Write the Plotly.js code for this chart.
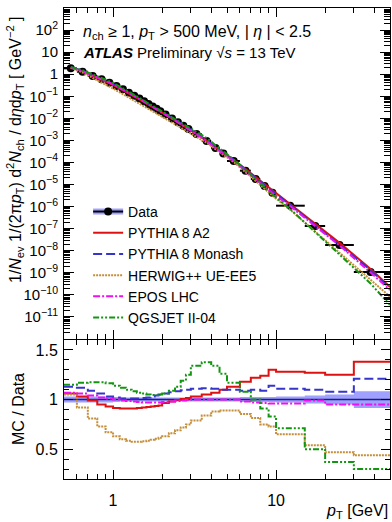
<!DOCTYPE html>
<html><head><meta charset="utf-8">
<script src="https://cdn.plot.ly/plotly-3.0.1.min.js"></script>
<style>html,body{margin:0;padding:0;background:#fff}#chart{width:392px;height:522px}</style>
</head><body><div id="chart"></div>
<script>
// ---------------- data ----------------
const binEdges = [0.5,0.6,0.7,0.8,0.9,1.0,1.1,1.2,1.3,1.4,1.5,1.6,1.7,1.8,1.9,2.0,2.2,2.4,2.6,2.8,3.0,3.5,4.0,4.5,5.0,6.0,7.0,8.0,9.0,10,15,20,30,50];
const pt = [0.55,0.65,0.75,0.85,0.95,1.05,1.15,1.25,1.35,1.45,1.55,1.65,1.75,1.85,1.95,2.1,2.3,2.5,2.7,2.9,3.25,3.75,4.25,4.75,5.5,6.5,7.5,8.5,9.5,12.2,17.4,24.5,38];
const dataVal = [1.85,1.30,0.83,0.59,0.41,0.29,0.207,0.145,0.106,0.0785,0.0593,0.0452,0.0348,0.0271,0.0211,0.0151,0.00995,0.0067,0.0046,0.0033,0.00195,0.00094,0.00045,0.000255,0.000117,4.25e-5,1.79e-5,8.6e-6,4.28e-6,1.10e-6,1.32e-7,1.82e-8,1.09e-9];
const dataRelUnc = [0.03,0.03,0.03,0.03,0.03,0.025,0.02,0.02,0.02,0.02,0.02,0.02,0.02,0.02,0.02,0.02,0.02,0.02,0.02,0.02,0.02,0.02,0.02,0.02,0.02,0.025,0.025,0.025,0.025,0.03,0.04,0.05,0.085];

// MC / Data ratios per bin
const ratioA2 = [1.06,1.03,0.99,0.95,0.93,0.915,0.91,0.91,0.91,0.915,0.92,0.925,0.93,0.935,0.94,0.965,0.98,0.995,1.005,1.015,1.03,1.05,1.07,1.10,1.13,1.18,1.22,1.24,1.30,1.28,1.27,1.25,1.38];
const ratioMonash = [1.13,1.12,1.09,1.06,1.03,1.02,1.01,1.01,1.01,1.01,1.015,1.02,1.03,1.04,1.05,1.06,1.075,1.085,1.095,1.10,1.11,1.115,1.11,1.10,1.10,1.09,1.10,1.09,1.14,1.11,1.10,1.08,1.21];
const ratioHerwig = [1.05,0.92,0.81,0.73,0.67,0.63,0.60,0.585,0.575,0.575,0.58,0.585,0.595,0.605,0.615,0.63,0.66,0.69,0.72,0.75,0.79,0.84,0.88,0.89,0.89,0.855,0.815,0.75,0.73,0.65,0.54,0.47,0.44];
const ratioEpos = [1.07,1.06,1.04,1.02,1.01,1.0,0.99,0.985,0.98,0.975,0.97,0.97,0.97,0.97,0.97,0.975,0.98,0.985,0.99,0.995,1.0,1.0,1.0,1.0,1.0,0.98,0.97,0.965,0.96,0.96,0.99,0.95,0.95];
const ratioQgsjet = [1.15,1.17,1.175,1.175,1.165,1.14,1.12,1.10,1.085,1.07,1.06,1.05,1.045,1.045,1.05,1.06,1.09,1.13,1.19,1.25,1.34,1.375,1.34,1.26,1.17,1.08,1.0,0.91,0.83,0.71,0.50,0.37,0.30];
// MC spectra value at the right edge of the main panel (pT = 50 GeV)
const mcEdgePt = 50;
const mcEdgeVal = [2.3e-10, 2.0e-10, 8.3e-11, 1.65e-10, 3.5e-11];

const seriesNames = ["PYTHIA 8 A2","PYTHIA 8 Monash","HERWIG++ UE-EE5","EPOS LHC","QGSJET II-04"];
const xTickVals = [1,10];
const xTickText = ["1","10"];

// ---------------- styles ----------------
const FONT = "Liberation Sans, Arial, Helvetica, sans-serif";
const styles = [
  {color:"#dd1111", dash:"solid"},
  {color:"#3535cc", dash:"9px,4px"},
  {color:"#c48f3a", dash:"2px,1px"},
  {color:"#ee11ee", dash:"7px,2px,2px,2px"},
  {color:"#129612", dash:"6px,2px,2px,2px,2px,2px"}
];
const ratios = [ratioA2, ratioMonash, ratioHerwig, ratioEpos, ratioQgsjet];

const stepY = a => a.concat([a[a.length-1]]);
const traces = [];

// ratio band (lower, upper) – upper also provides the band legend symbol
const bandLo = dataRelUnc.map(u => 1 - u);
const bandHi = dataRelUnc.map(u => 1 + u);
traces.push({x: binEdges, y: stepY(bandLo), xaxis:"x2", yaxis:"y2", mode:"lines",
  line:{shape:"hv", width:0, color:"rgba(0,0,0,0)"}, showlegend:false, hoverinfo:"skip"});
traces.push({x: binEdges, y: stepY(bandHi), xaxis:"x2", yaxis:"y2", mode:"none",
  line:{shape:"hv", width:0}, fill:"tonexty", fillcolor:"#a0a0ff", name:" ",
  legend:"legend", showlegend:true, hoverinfo:"skip"});
// data line at 1
traces.push({x: binEdges, y: stepY(dataVal.map(v => v / v)), xaxis:"x2", yaxis:"y2", mode:"lines",
  line:{shape:"hv", width:1.5, color:"#1c1c8c"}, showlegend:false, hoverinfo:"skip"});

// data points in the main panel (nulls between points so no connecting line is drawn)
const dx = [], dy = [], ep = [], em = [];
pt.forEach((p, i) => {
  dx.push(p); dy.push(dataVal[i]); ep.push(binEdges[i+1] - p); em.push(p - binEdges[i]);
  if (i < pt.length - 1) { dx.push(null); dy.push(null); ep.push(0); em.push(0); }
});
traces.push({x: dx, y: dy, xaxis:"x", yaxis:"y", mode:"lines+markers", name:"Data",
  legend:"legend2", line:{color:"#000", width:2}, marker:{color:"#000", size:8, symbol:"circle"},
  error_x:{type:"data", symmetric:false, array:ep, arrayminus:em, color:"#000", thickness:2, width:0},
  connectgaps:false, hoverinfo:"skip"});

// MC curves: main panel (MC = data x ratio) and ratio panel steps
ratios.forEach((r, k) => {
  traces.push({x: pt.concat([mcEdgePt]), y: dataVal.map((v, i) => v * r[i]).concat([mcEdgeVal[k]]),
    xaxis:"x", yaxis:"y", mode:"lines", name: seriesNames[k], legend:"legend2",
    line:{color: styles[k].color, dash: styles[k].dash, width:2}, hoverinfo:"skip"});
});
ratios.forEach((r, k) => {
  traces.push({x: binEdges, y: stepY(r), xaxis:"x2", yaxis:"y2", mode:"lines", showlegend:false,
    line:{shape:"hv", color: styles[k].color, dash: styles[k].dash, width:2}, hoverinfo:"skip"});
});

// ---------------- axes ----------------
const yTickVals = [], yTickText = [], yMinor = [];
for (let d = -12; d <= 3; d++) {
  yTickVals.push(Math.pow(10, d));
  let t = "";
  if (d >= -11 && d <= 2) t = d === 0 ? "1" : d === 1 ? "10" : "10<sup>" + (d < 0 ? "\u2212" + (-d) : d) + "</sup>";
  yTickText.push(t);
  if (d < 3) for (let m = 2; m <= 9; m++) yMinor.push(m * Math.pow(10, d));
}
const xMinor = [0.6,0.7,0.8,0.9,2,3,4,5,6,7,8,9,20,30,40];
const rMinor = [0.3,0.4,0.6,0.7,0.8,0.9,1.1,1.2,1.3,1.4];

const xCommon = {type:"log", range:[Math.log10(0.5), Math.log10(50)], showline:true, mirror:"allticks",
  linecolor:"#000", linewidth:1, ticks:"inside", ticklen:9, tickwidth:1, tickcolor:"#000",
  tickmode:"array", tickvals:xTickVals, ticktext:xTickText, showgrid:false, zeroline:false,
  minor:{tickmode:"array", tickvals:xMinor, ticks:"inside", ticklen:5, tickcolor:"#000", showgrid:false},
  tickfont:{family:FONT, size:16, color:"#000"}};

const legendCommon = {x:0.074, y:0.601, xanchor:"left", yanchor:"top", bgcolor:"rgba(0,0,0,0)", borderwidth:0,
  font:{family:FONT, size:14, color:"#000"}, tracegroupgap:0, traceorder:"normal"};

const layout = {
  width:392, height:522, margin:{l:64, r:2, t:8, b:43}, paper_bgcolor:"#fff", plot_bgcolor:"#fff",
  font:{family:FONT, color:"#000"},
  xaxis: Object.assign({}, xCommon, {anchor:"y", showticklabels:false}),
  xaxis2: Object.assign({}, xCommon, {anchor:"y2", ticklabelstandoff:7}),
  yaxis: {type:"log", range:[-12, 3], domain:[0.2972, 1], anchor:"x", showline:true, mirror:"allticks",
    linecolor:"#000", linewidth:1, ticks:"inside", ticklen:10, tickcolor:"#000",
    tickmode:"array", tickvals:yTickVals, ticktext:yTickText, showgrid:false, zeroline:false,
    minor:{tickmode:"array", tickvals:yMinor, ticks:"inside", ticklen:6, tickcolor:"#000", showgrid:false},
    tickfont:{family:FONT, size:15, color:"#000"}, ticklabelstandoff:2},
  yaxis2: {range:[0.2, 1.6], domain:[0, 0.2951], anchor:"x2", showline:true, mirror:"allticks",
    linecolor:"#000", linewidth:1, ticks:"inside", ticklen:9, tickcolor:"#000",
    tickmode:"array", tickvals:[0.5,1,1.5], ticktext:["0.5","1","1.5"], showgrid:false, zeroline:false,
    minor:{tickmode:"array", tickvals:rMinor, ticks:"inside", ticklen:5, tickcolor:"#000", showgrid:false},
    tickfont:{family:FONT, size:16, color:"#000"}, ticklabelstandoff:2},
  legend: Object.assign({}, legendCommon),
  legend2: Object.assign({}, legendCommon),
  annotations: [
    {xref:"paper", yref:"paper", x:0.052, y:0.949, xanchor:"left", yanchor:"middle", showarrow:false,
     text:"<i>n</i><sub>ch</sub> \u2265 1, <i>p</i><sub>T</sub> > 500 MeV, | <i>\u03b7</i> | < 2.5",
     font:{family:FONT, size:16, color:"#000"}},
    {xref:"paper", yref:"paper", x:0.052, y:0.9045, xanchor:"left", yanchor:"middle", showarrow:false,
     text:"<b><i>ATLAS</i></b> Preliminary \u221a<i>s</i> = 13 TeV",
     font:{family:FONT, size:15, color:"#000"}},
    {xref:"paper", yref:"paper", x:-0.150, y:0.6985, xanchor:"center", yanchor:"middle", showarrow:false,
     textangle:-90,
     text:"1/<i>N</i><sub>ev</sub> 1/(2\u03c0<i>p</i><sub>T</sub>) d<sup>2</sup><i>N</i><sub>ch</sub> / d<i>\u03b7</i>d<i>p</i><sub>T</sub> [ GeV<sup>\u22122</sup> ]",
     font:{family:FONT, size:16, color:"#000"}},
    {xref:"paper", yref:"paper", x:-0.141, y:0.1486, xanchor:"center", yanchor:"middle", showarrow:false,
     textangle:-90, text:"MC / Data", font:{family:FONT, size:16, color:"#000"}},
    {xref:"paper", yref:"paper", x:1.0, y:-0.068, xanchor:"right", yanchor:"middle", showarrow:false,
     text:"<i>p</i><sub>T</sub> [GeV]", font:{family:FONT, size:16, color:"#000"}}
  ]
};

Plotly.newPlot("chart", traces, layout, {staticPlot:true, displayModeBar:false});
</script></body></html>
